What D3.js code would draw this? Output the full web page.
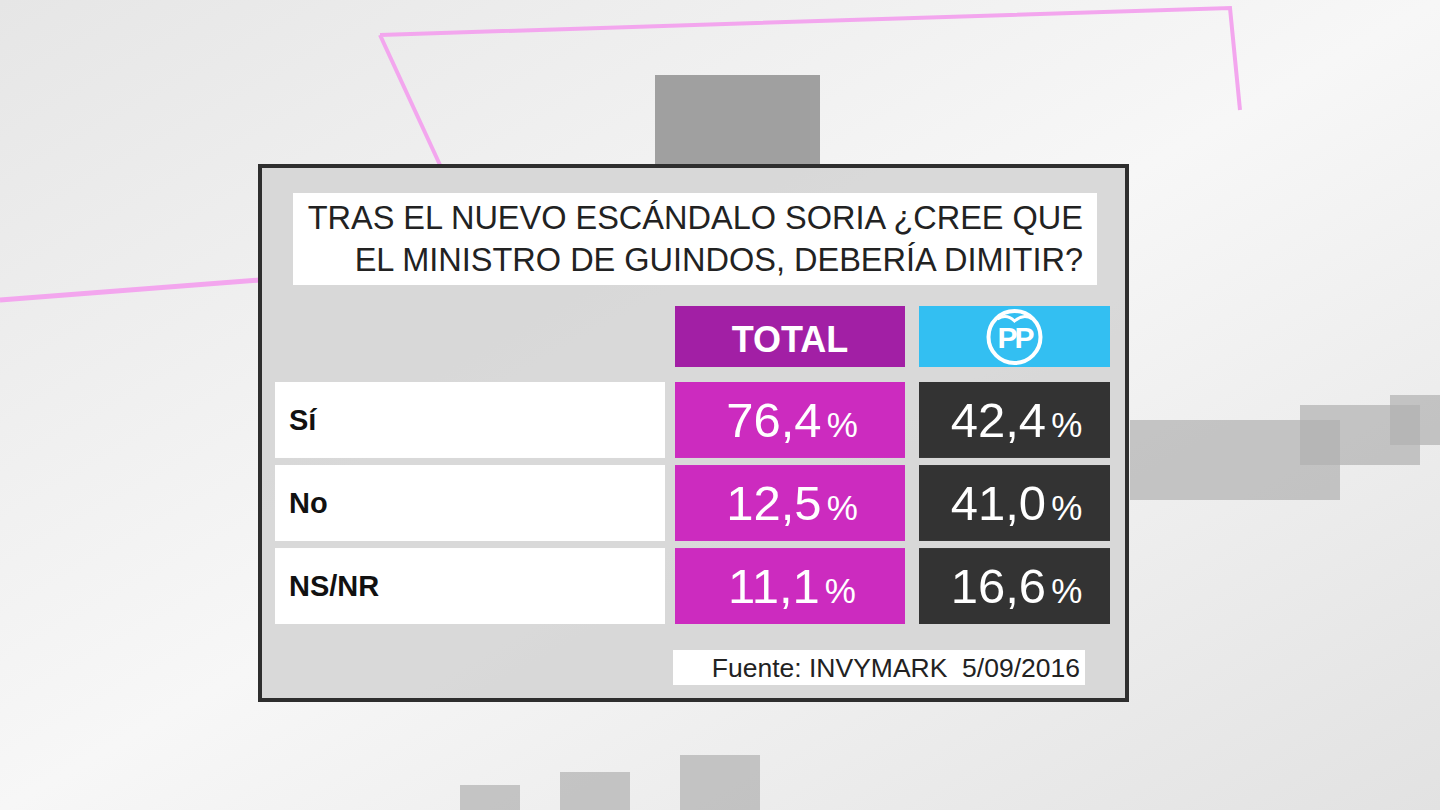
<!DOCTYPE html><html><head><meta charset="utf-8">
<script src="https://cdn.jsdelivr.net/npm/d3@7"></script>
<style>body{margin:0;background:#eee}svg{display:block}</style></head><body>
<svg id="c" width="1440" height="810"></svg>
<script>
const title = ["TRAS EL NUEVO ESCÁNDALO SORIA ¿CREE QUE","EL MINISTRO DE GUINDOS, DEBERÍA DIMITIR?"];
const categories = ["Sí","No","NS/NR"];
const columns = ["TOTAL","PP"];
const totalValues = ["76,4","12,5","11,1"];
const ppValues = ["42,4","41,0","16,6"];
const source = "Fuente: INVYMARK  5/09/2016";

const svg = d3.select("#c");
const F = "Liberation Sans, Arial, sans-serif";
const g0 = svg.append("defs").append("linearGradient").attr("id","bg").attr("x1",0).attr("y1",0).attr("x2",1).attr("y2",1);
g0.append("stop").attr("offset",0).attr("stop-color","#e6e6e6");
g0.append("stop").attr("offset",0.5).attr("stop-color","#f7f7f7");
g0.append("stop").attr("offset",1).attr("stop-color","#e2e2e2");
svg.append("rect").attr("width",1440).attr("height",810).attr("fill","url(#bg)");
svg.append("path").attr("d","M380,35 L1230,8 L1240,110 M380,35 L440,165").attr("fill","none").attr("stroke","#f3a6ee").attr("stroke-width",4);
svg.append("path").attr("d","M0,300 L260,280").attr("stroke","#f3a6ee").attr("stroke-width",5);
svg.append("rect").attr("x",655).attr("y",75).attr("width",165).attr("height",90).attr("fill","#a0a0a0");
[[1130,420,210,80],[1300,405,120,60],[1390,395,50,50],[460,785,60,25],[560,772,70,38],[680,755,80,55]].forEach(r=>
  svg.append("rect").attr("x",r[0]).attr("y",r[1]).attr("width",r[2]).attr("height",r[3]).attr("fill","#b0b0b0").attr("opacity",0.7));

svg.append("rect").attr("x",260).attr("y",166).attr("width",867).attr("height",534)
  .attr("fill","#d6d6d6").attr("fill-opacity",0.92).attr("stroke","#2e2e2e").attr("stroke-width",4);
svg.append("rect").attr("x",293).attr("y",193).attr("width",804).attr("height",92).attr("fill","#fff");
svg.append("text").attr("font-family",F).attr("font-size",32.5).attr("fill","#222").attr("text-anchor","end")
  .selectAll("tspan").data(title).join("tspan").attr("x",1083).attr("y",(d,i)=>229+i*42).text(d=>d);

const y = d3.scaleBand().domain(categories).range([382,624]).paddingInner(0.085).paddingOuter(0);
const x = d3.scaleOrdinal().domain(["label",...columns]).range([275,675,919]);
const w = {label:390,TOTAL:230,PP:191};
const fill = {TOTAL:"#cc2bbf",PP:"#333333"};
const head = {TOTAL:"#a21fa5",PP:"#33bff2"};

columns.forEach(c=>{
  svg.append("rect").attr("x",x(c)).attr("y",306).attr("width",w[c]).attr("height",61).attr("fill",head[c]);
});
svg.append("text").attr("x",x("TOTAL")+w.TOTAL/2).attr("y",352).attr("text-anchor","middle")
  .attr("font-family",F).attr("font-weight","bold").attr("font-size",36).attr("fill","#fff").text("TOTAL");
const cx = x("PP")+w.PP/2, cy=337;
svg.append("circle").attr("cx",cx).attr("cy",cy).attr("r",26).attr("fill","none").attr("stroke","#fff").attr("stroke-width",4);
svg.append("path").attr("d",`M${cx-17},${cy-18} Q${cx-8},${cy-24} ${cx},${cy-16} Q${cx+9},${cy-24} ${cx+18},${cy-18}`).attr("fill","none").attr("stroke","#fff").attr("stroke-width",3);
svg.append("text").attr("x",cx).attr("y",cy+11).attr("text-anchor","middle").attr("font-family",F).attr("font-weight","bold")
  .attr("font-size",30).attr("letter-spacing",-3).attr("fill","#fff").text("PP");

categories.forEach((cat,i)=>{
  const yy=y(cat), h=y.bandwidth();
  svg.append("rect").attr("x",x("label")).attr("y",yy).attr("width",w.label).attr("height",h).attr("fill","#fff");
  svg.append("text").attr("x",x("label")+14).attr("y",yy+h/2+10).attr("font-family",F).attr("font-size",29).attr("font-weight","bold").attr("fill","#111").text(cat);
  [["TOTAL",totalValues[i]],["PP",ppValues[i]]].forEach(([c,v])=>{
    svg.append("rect").attr("x",x(c)).attr("y",yy).attr("width",w[c]).attr("height",h).attr("fill",fill[c]);
    const t=svg.append("text").attr("x",x(c)+w[c]/2+2).attr("y",yy+h/2+17).attr("text-anchor","middle")
      .attr("font-family",F).attr("fill","#fff");
    t.append("tspan").attr("font-size",49).text(v);
    t.append("tspan").attr("font-size",35).attr("dx",5).text("%");
  });
});

svg.append("rect").attr("x",673).attr("y",650).attr("width",412).attr("height",35).attr("fill","#fff");
svg.append("text").attr("x",1080).attr("y",677).attr("text-anchor","end").attr("font-family",F).attr("font-size",26.5)
  .attr("fill","#222").style("white-space","pre").text(source);
</script></body></html>
